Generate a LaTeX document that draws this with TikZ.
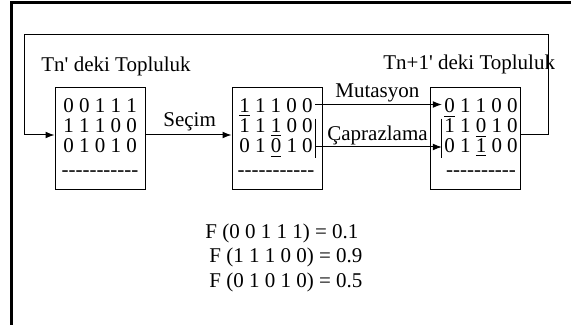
\documentclass[tikz,border=0pt]{standalone}
\usepackage{fontspec}
\setmainfont{Liberation Serif}
\usetikzlibrary{arrows.meta,positioning}

\newcommand{\dashrow}{-{}-{}-{}-{}-{}-{}-{}-{}-{}-{}-}

\begin{document}
\begin{tikzpicture}[x=0.5pt,y=-0.5pt,>={Latex[length=4.5pt,width=3.4pt]},
      font=\fontsize{10.5}{12}\selectfont,
      pop/.style={draw,line width=0.5pt,minimum width=45pt,minimum height=51pt},
      row/.style={anchor=base,inner xsep=1pt,inner ysep=0pt,text height=7pt,text depth=2.5pt},
      lbl/.style={anchor=base west,inner sep=0pt},
      con/.style={line width=0.5pt}]
    \useasboundingbox (0,0) rectangle (571,325);
    % frame
    \draw[line width=1.5pt] (11,325) -- (11,2.5) -- (571,2.5);

    % populations
    \node[pop] (gen) at (100,139) {};
    \node[pop] (sec) at (277,139) {};
    \node[pop] (yeni) at (475,139) {};

    \node[row] (gen1) at (100,113) {0 0 1 1 1};
    \node[row] (gen2) at (100,133) {1 1 1 0 0};
    \node[row] (gen3) at (100,153) {0 1 0 1 0};
    \node[row] (gend) at (100,177) {\dashrow};

    \node[row] (sec1) at (276,113) {\underline{1} 1 1 0 0};
    \node[row] (sec2) at (276,133) {1 1 \underline{1} 0 0};
    \node[row] (sec3) at (276,153) {0 1 \underline{0} 1 0};
    \node[row] (secd) at (276,177) {\dashrow};

    \node[row] (yeni1) at (481,113) {\underline{0} 1 1 0 0};
    \node[row] (yeni2) at (481,133) {1 1 \underline{0} 1 0};
    \node[row] (yeni3) at (481,153) {0 1 \underline{1} 0 0};
    \node[row] (yenid) at (481,177) {-{}-{}-{}-{}-{}-{}-{}-{}-{}-};

    \node[lbl] (tn) at (41,72) {Tn\textquotesingle{} deki Topluluk};
    \node[lbl] (tn1) at (383,70) {Tn+1\textquotesingle{} deki Topluluk};

    % operators
    \draw[con,->] ([yshift=2pt]gen.east) -- ([yshift=2pt]sec.west);
    \node[lbl] (secim) at (163,127) {Seçim};

    \draw[con,->] ([yshift=2pt]sec1.east) -- ([yshift=2pt]yeni1.west);
    \node[lbl] (mut) at (335,98) {Mutasyon};

    \draw[con] (sec2.north east) -- (sec3.south east);
    \draw[con] (yeni2.north west) -- (yeni3.south west);
    \draw[con,->] ([yshift=0.75pt]sec3.east) -- ([yshift=0.75pt]yeni3.west);
    \node[lbl] (capr) at (327,141) {Çaprazlama};

    % back to the start
    \coordinate (donR) at (548,35);
    \coordinate (donL) at (24,35);
    \draw[con,->] ([yshift=2pt]yeni.east) -| (donR) -- (donL) |- ([yshift=2pt]gen.west);

    % fitness values
    \node[lbl] (f1) at (205,239) {F (0 0 1 1 1) = 0.1};
    \node[lbl] (f2) at (209,263) {F (1 1 1 0 0) = 0.9};
    \node[lbl] (f3) at (209,287) {F (0 1 0 1 0) = 0.5};
\end{tikzpicture}
\end{document}
